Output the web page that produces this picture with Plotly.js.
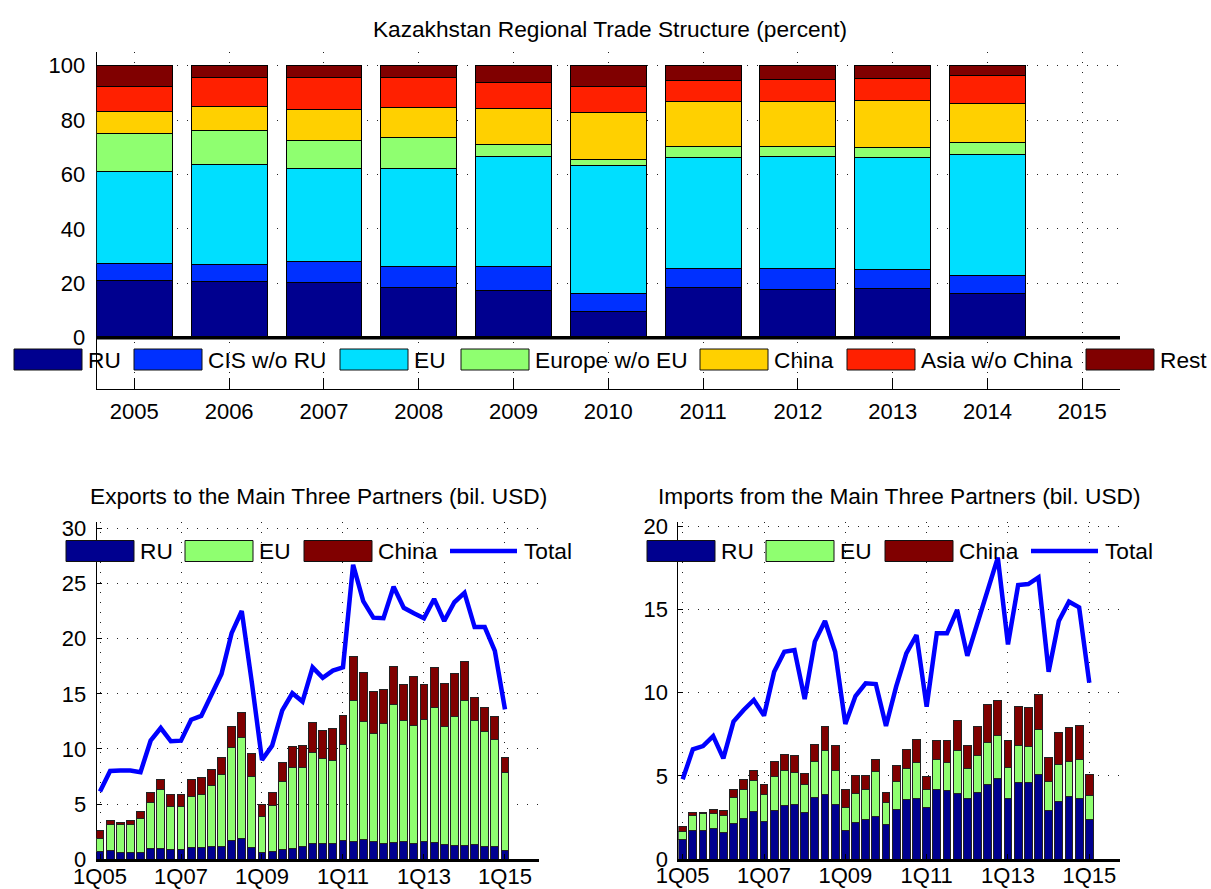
<!DOCTYPE html>
<html>
<head>
<meta charset="utf-8">
<script src="https://cdn.plot.ly/plotly-3.0.1.min.js"></script>
<style>html,body{margin:0;padding:0;background:#fff;}#chart{width:1211px;height:889px;}</style>
</head>
<body>
<div id="chart"></div>
<script>
// ---------------- DATA ----------------
const years = [2005, 2006, 2007, 2008, 2009, 2010, 2011, 2012, 2013, 2014];
const yearTicks = [2005, 2006, 2007, 2008, 2009, 2010, 2011, 2012, 2013, 2014, 2015];
const shareNames = ["RU", "CIS w/o RU", "EU", "Europe w/o EU", "China", "Asia w/o China", "Rest"];
const shareRU     = [21.1, 20.7, 20.4, 18.4, 17.4, 9.5, 18.5, 17.7, 18.0, 16.1];
const shareCIS    = [6.0, 6.1, 7.7, 7.7, 8.9, 6.7, 7.0, 7.7, 7.1, 6.8];
const shareEU     = [33.8, 36.8, 34.0, 35.9, 40.3, 47.2, 40.8, 41.2, 41.1, 44.4];
const shareEurope = [14.1, 12.6, 10.3, 11.4, 4.5, 2.0, 4.1, 3.7, 3.8, 4.3];
const shareChina  = [8.2, 8.8, 11.3, 11.3, 13.3, 17.5, 16.4, 16.4, 17.0, 14.5];
const shareAsia   = [9.1, 10.7, 12.0, 11.0, 9.3, 9.3, 7.7, 8.1, 8.2, 10.3];
const shareRest   = [7.7, 4.3, 4.3, 4.3, 6.3, 7.8, 5.5, 5.2, 4.8, 3.6];

const quarters = ["1Q05","2Q05","3Q05","4Q05","1Q06","2Q06","3Q06","4Q06",
  "1Q07","2Q07","3Q07","4Q07","1Q08","2Q08","3Q08","4Q08",
  "1Q09","2Q09","3Q09","4Q09","1Q10","2Q10","3Q10","4Q10",
  "1Q11","2Q11","3Q11","4Q11","1Q12","2Q12","3Q12","4Q12",
  "1Q13","2Q13","3Q13","4Q13","1Q14","2Q14","3Q14","4Q14","1Q15"];
const quarterTicks = ["1Q05", "1Q07", "1Q09", "1Q11", "1Q13", "1Q15"];
const partnerNames = ["RU", "EU", "China", "Total"];

const expRU = [0.7,0.8,0.6,0.6,0.6,1.0,0.95,0.9,0.9,1.1,1.1,1.2,1.2,1.7,1.9,1.05,0.65,0.75,0.85,1.0,1.2,1.4,1.4,1.45,1.7,1.6,1.8,1.65,1.4,1.5,1.6,1.4,1.6,1.5,1.3,1.25,1.25,1.3,1.2,1.2,0.8];
const expEU = [1.2,2.4,2.6,2.55,3.1,4.15,5.35,3.85,3.85,4.55,4.8,5.5,6.5,8.4,9.1,6.45,3.25,4.1,6.2,7.3,7.15,8.3,7.7,7.55,8.75,12.8,10.7,9.75,10.9,12.5,11.0,10.7,11.1,12.3,10.7,11.65,13.15,11.3,10.4,9.7,7.1];
const expCN = [0.7,0.3,0.1,0.35,0.6,0.95,0.9,1.15,1.15,1.6,1.5,1.4,1.5,1.9,2.3,2.05,1.1,1.2,1.75,1.9,2.0,2.7,2.6,2.9,2.6,4.0,4.4,3.8,3.1,3.5,3.2,4.5,3.1,3.6,3.9,3.9,3.5,2.1,2.2,2.0,1.3];
const expTotal = [6.15,8.0,8.05,8.05,7.9,10.75,11.9,10.7,10.75,12.65,13.0,15.0,16.8,20.5,22.5,16.0,9.0,10.3,13.5,15.05,14.3,17.4,16.45,17.1,17.4,26.7,23.4,21.9,21.85,24.7,22.8,22.3,21.85,23.6,21.6,23.3,24.15,21.05,21.05,18.9,13.6];

const impRU = [1.2,1.74,1.7,1.86,1.58,2.16,2.44,2.83,2.28,2.89,3.19,3.25,2.8,3.7,3.9,3.3,1.74,2.2,2.35,2.55,2.08,2.99,3.55,3.63,3.09,4.19,4.11,3.91,3.65,3.99,4.49,4.83,3.61,4.61,4.61,5.07,2.89,3.45,3.75,3.61,2.38];
const impEU = [0.44,0.89,1.05,0.89,1.05,1.53,1.76,1.87,1.62,2.06,2.11,1.98,1.65,2.15,2.65,2.0,1.35,1.75,1.84,2.7,1.32,1.7,1.9,2.18,1.1,1.8,1.7,2.64,1.8,2.26,2.5,2.62,1.9,2.24,2.18,2.69,1.76,2.26,2.1,2.38,1.43];
const impCN = [0.34,0.14,0.04,0.2,0.27,0.46,0.6,0.65,0.6,0.9,1.0,0.97,0.7,1.05,1.4,1.5,1.06,1.05,0.81,0.75,0.57,0.94,1.16,1.38,0.78,1.16,1.34,1.75,1.4,1.71,2.31,2.07,1.64,2.31,2.31,2.16,1.46,1.91,2.07,2.03,1.3];
const impTotal = [4.79,6.59,6.79,7.39,6.05,8.26,8.96,9.56,8.62,11.26,12.46,12.56,9.62,13.07,14.31,12.46,8.12,9.8,10.56,10.52,8.0,10.36,12.36,13.47,9.16,13.57,13.57,14.97,12.22,14.17,15.97,18.12,12.9,16.47,16.53,16.93,11.26,14.31,15.47,15.13,10.6];

// ---------------- STYLE ----------------
const W = 1211, H = 889;
const px = x => x / W;
const py = y => 1 - y / H;
const FONT = "Liberation Sans, Arial, Helvetica, sans-serif";
const FS = 22;      // tick labels
const FT = 22.7;    // titles and legend labels
const shareColors = ["#00008F", "#0030FF", "#00DFFF", "#8FFF70", "#FFD000", "#FF2000", "#800000"];
const partnerColors = ["#00008F", "#8FFF70", "#800000", "#0000FF"];
const gridDash = "1px,9px";

const shareSeries = [shareRU, shareCIS, shareEU, shareEurope, shareChina, shareAsia, shareRest];
const traces = [];
shareSeries.forEach((vals, k) => {
  traces.push({type: "bar", x: years, y: vals, name: shareNames[k], xaxis: "x", yaxis: "y",
    width: 0.8, marker: {color: shareColors[k], line: {color: "#000", width: 1}}, showlegend: false});
});
function addPartner(xa, ya, ru, eu, cn, tot) {
  [ru, eu, cn].forEach((vals, k) => {
    traces.push({type: "bar", x: quarters, y: vals, name: partnerNames[k], xaxis: xa, yaxis: ya,
      width: 0.78, marker: {color: partnerColors[k], line: {color: "#222", width: 1}}, showlegend: false});
  });
  traces.push({type: "scatter", mode: "lines", x: quarters, y: tot, name: partnerNames[3], xaxis: xa, yaxis: ya,
    line: {color: partnerColors[3], width: 4.5}, showlegend: false});
}
addPartner("x2", "y2", expRU, expEU, expCN, expTotal);
addPartner("x3", "y3", impRU, impEU, impCN, impTotal);

const baseAxis = {
  showline: true, linecolor: "#000", linewidth: 1, mirror: false,
  showgrid: true, gridcolor: "#222", gridwidth: 1, griddash: gridDash,
  zeroline: false, ticks: "inside", tickcolor: "#000",
  tickfont: {family: FONT, size: FS, color: "#000"}, fixedrange: true
};

const layout = {
  width: W, height: H, margin: {l: 0, r: 0, t: 0, b: 0},
  paper_bgcolor: "#fff", plot_bgcolor: "#fff", barmode: "stack", bargap: 0,
  showlegend: false,
  font: {family: FONT, size: FS, color: "#000"},
  title: {text: "Kazakhstan Regional Trade Structure (percent)", x: px(610), xanchor: "center",
    y: py(29), yanchor: "middle", xref: "paper", yref: "paper", font: {family: FONT, size: FT, color: "#000"}},
  xaxis: Object.assign({}, baseAxis, {domain: [px(96.7), px(1120)], anchor: "y", range: [2004.603, 2015.398],
    tickmode: "array", tickvals: yearTicks, ticktext: yearTicks.map(String), ticklen: 11, ticklabelstandoff: 3}),
  yaxis: Object.assign({}, baseAxis, {domain: [py(389), py(52)], anchor: "x", range: [-18.86, 105.0],
    tickmode: "array", tickvals: [0, 20, 40, 60, 80, 100], ticklen: 10, layer: "below traces", ticklabelstandoff: 6}),
  xaxis2: Object.assign({}, baseAxis, {domain: [px(96.7), px(539.3)], anchor: "y2", type: "category",
    categoryorder: "array", categoryarray: quarters, range: [-0.326, 43.39],
    tickmode: "array", tickvals: quarterTicks, ticktext: quarterTicks, linewidth: 3, ticklen: 5, ticklabelstandoff: -5}),
  yaxis2: Object.assign({}, baseAxis, {domain: [py(859.3), py(521.7)], anchor: "x2", range: [0, 30.6],
    tickmode: "array", tickvals: [0, 5, 10, 15, 20, 25, 30], ticklen: 5, layer: "below traces", ticklabelstandoff: 5}),
  xaxis3: Object.assign({}, baseAxis, {domain: [px(678.3), px(1120)], anchor: "y3", type: "category",
    categoryorder: "array", categoryarray: quarters, range: [-0.43, 43.02],
    tickmode: "array", tickvals: quarterTicks, ticktext: quarterTicks, linewidth: 3, ticklen: 5, ticklabelstandoff: -5}),
  yaxis3: Object.assign({}, baseAxis, {domain: [py(859), py(521.7)], anchor: "x3", range: [0, 20.28],
    tickmode: "array", tickvals: [0, 5, 10, 15, 20], ticklen: 5, layer: "below traces", ticklabelstandoff: 5}),
  shapes: [],
  annotations: []
};

// baseline at 0 in top chart
layout.shapes.push({type: "line", xref: "x domain", yref: "y", x0: 0, x1: 1, y0: 0, y1: 0,
  line: {color: "#000", width: 3.5}, layer: "above"});

// subplot titles
layout.annotations.push({text: "Exports to the Main Three Partners (bil. USD)", xref: "paper", yref: "paper",
  x: px(318.5), y: py(496), xanchor: "center", yanchor: "middle", showarrow: false, font: {family: FONT, size: FT, color: "#000"}});
layout.annotations.push({text: "Imports from the Main Three Partners (bil. USD)", xref: "paper", yref: "paper",
  x: px(899), y: py(496), xanchor: "center", yanchor: "middle", showarrow: false, font: {family: FONT, size: FT, color: "#000"}});

// legends (drawn manually with wide Matlab-like patches)
function legendPatch(x0, yc, color, label, isLine) {
  if (isLine) {
    layout.shapes.push({type: "line", xref: "paper", yref: "paper", x0: px(x0), x1: px(x0 + 67), y0: py(yc), y1: py(yc),
      line: {color: color, width: 4.5}, layer: "above"});
  } else {
    layout.shapes.push({type: "rect", xref: "paper", yref: "paper", x0: px(x0), x1: px(x0 + 68), y0: py(yc + 10.5), y1: py(yc - 10.5),
      fillcolor: color, line: {color: "#111", width: 1}, layer: "above"});
  }
  layout.annotations.push({text: label, xref: "paper", yref: "paper", x: px(x0 + 72), y: py(yc),
    xanchor: "left", yanchor: "middle", showarrow: false, font: {family: FONT, size: FT, color: "#000"}});
}
const topLegendX = [14, 134, 340, 461, 700, 847, 1086];
shareNames.forEach((n, k) => legendPatch(topLegendX[k], 359.5, shareColors[k], n, false));
const botLegendOffsets = [0, 119, 238, 384];
partnerNames.forEach((n, k) => legendPatch(66 + botLegendOffsets[k], 551, partnerColors[k], n, k === 3));
partnerNames.forEach((n, k) => legendPatch(647 + botLegendOffsets[k], 551, partnerColors[k], n, k === 3));

Plotly.newPlot("chart", traces, layout, {staticPlot: true, displayModeBar: false});
</script>
</body>
</html>
